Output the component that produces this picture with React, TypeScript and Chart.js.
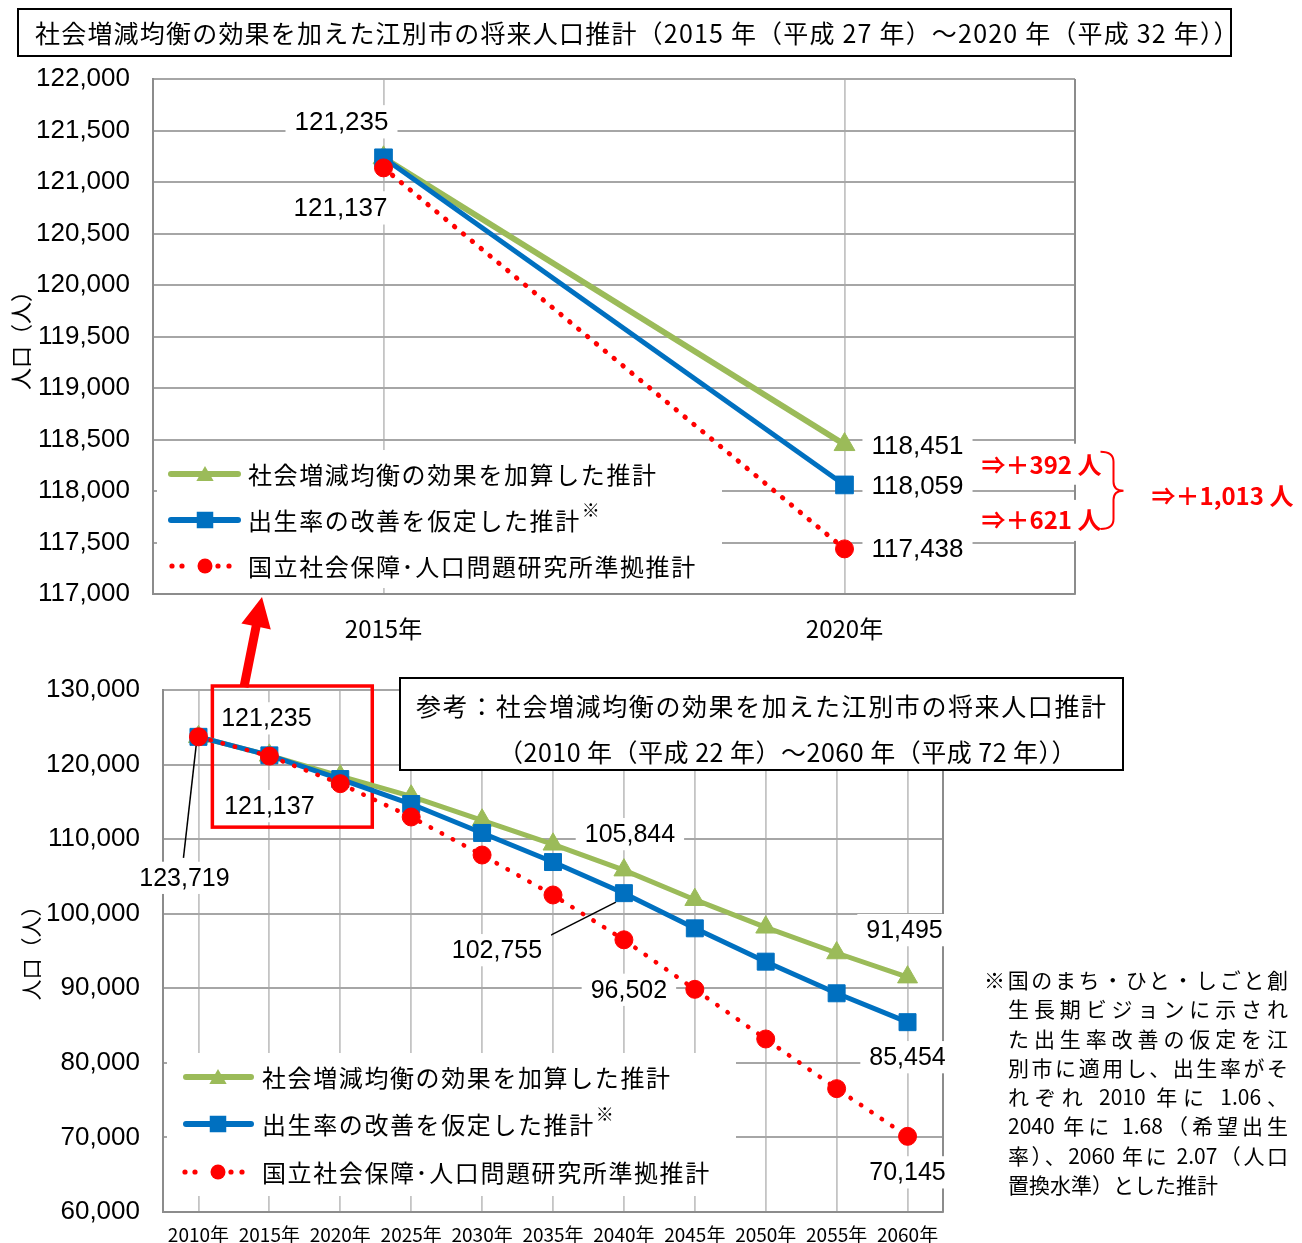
import React, { useEffect, useRef } from 'react';
import { Chart, registerables } from 'chart.js';

Chart.register(...registerables);

// ---------------- data ----------------
const seriesNames = [
  '社会増減均衡の効果を加算した推計',
  '出生率の改善を仮定した推計',
  '国立社会保障･人口問題研究所準拠推計',
];

const topYears = ['2015年', '2020年'];
const topBalance = [121235, 118451];
const topFertility = [121235, 118059];
const topIpss = [121137, 117438];
const topYMin = 117000;
const topYMax = 122000;
const topYStep = 500;

const refYears = ['2010年', '2015年', '2020年', '2025年', '2030年', '2035年', '2040年', '2045年', '2050年', '2055年', '2060年'];
const refBalance = [123719, 121235, 118451, 115750, 112530, 109310, 105844, 101880, 98180, 94730, 91495];
const refFertility = [123719, 121235, 118059, 114710, 110830, 106930, 102755, 98040, 93570, 89330, 85454];
const refIpss = [123719, 121137, 117438, 112970, 107870, 102510, 96502, 89860, 83200, 76540, 70145];
const refYMin = 60000;
const refYMax = 130000;
const refYStep = 10000;

const titleText = '社会増減均衡の効果を加えた江別市の将来人口推計（2015 年（平成 27 年）～2020 年（平成 32 年））';
const refTitle1 = '参考：社会増減均衡の効果を加えた江別市の将来人口推計';
const refTitle2 = '（2010 年（平成 22 年）～2060 年（平成 72 年））';
const yAxisTitle = '人口（人）';
const noteLines = [
  '※国のまち・ひと・しごと創',
  '生長期ビジョンに示され',
  'た出生率改善の仮定を江',
  '別市に適用し、出生率がそ',
  'れぞれ 2010 年に 1.06、',
  '2040 年に 1.68（希望出生',
  '率）、2060 年に 2.07（人口',
  '置換水準）とした推計',
];

// ---------------- styles ----------------
const FONT_JP = '"Noto Sans CJK JP", "Noto Sans", sans-serif';
const FONT_NUM = '"Liberation Sans", Arial, sans-serif';
const GREEN = '#9BBB59';
const BLUE = '#0070C0';
const RED = '#FF0000';
const GRID_H = '#a6a6a6';
const GRID_V = '#c4c4c4';
const AXIS = '#8c8c8c';

type LabelSpec = { ds: number; i: number; dx: number; dy: number; leader?: number[] };

interface LegendSpec {
  x: number; y: number; w: number; h: number;
  rows: number[]; x1: number; x2: number; mx: number; tx: number;
  size: number; r: number[]; lw: number;
}

interface DecorSpec {
  id: string;
  yTitle: { x: number; y: number; size: number };
  legend: LegendSpec;
  labels: LabelSpec[];
  labelSize: number;
  extra?: (ctx: CanvasRenderingContext2D, chart: any) => void;
}

function tri(ctx: CanvasRenderingContext2D, x: number, y: number, r: number) {
  ctx.beginPath();
  ctx.moveTo(x, y - r);
  ctx.lineTo(x + r * 0.866, y + r / 2);
  ctx.lineTo(x - r * 0.866, y + r / 2);
  ctx.closePath();
  ctx.fill();
}

function drawLegend(ctx: CanvasRenderingContext2D, L: LegendSpec) {
  ctx.fillStyle = '#fff';
  ctx.fillRect(L.x, L.y, L.w, L.h);
  const colors = [GREEN, BLUE, RED];
  L.rows.forEach((ry, k) => {
    ctx.save();
    if (k < 2) {
      ctx.strokeStyle = colors[k];
      ctx.lineWidth = L.lw;
      ctx.lineCap = 'round';
      ctx.beginPath();
      ctx.moveTo(L.x1 + 3, ry);
      ctx.lineTo(L.x2 - 3, ry);
      ctx.stroke();
    } else {
      ctx.fillStyle = RED;
      [-33, -23, 13, 24].forEach((o) => {
        ctx.beginPath();
        ctx.arc(L.mx + o, ry, 2.6, 0, Math.PI * 2);
        ctx.fill();
      });
    }
    ctx.fillStyle = colors[k];
    if (k === 0) tri(ctx, L.mx, ry + 2, L.r[0]);
    if (k === 1) {
      const s = L.r[1];
      ctx.fillRect(L.mx - s / 2, ry - s / 2, s, s);
    }
    if (k === 2) {
      ctx.beginPath();
      ctx.arc(L.mx, ry, L.r[2], 0, Math.PI * 2);
      ctx.fill();
    }
    ctx.restore();
    ctx.save();
    ctx.fillStyle = '#000';
    ctx.font = `${L.size}px ${FONT_JP}`;
    (ctx as any).letterSpacing = '1.6px';
    ctx.textAlign = 'left';
    ctx.textBaseline = 'middle';
    ctx.fillText(seriesNames[k], L.tx, ry + 1);
    if (k === 1) {
      const w = ctx.measureText(seriesNames[k]).width;
      ctx.font = `${Math.round(L.size * 0.75)}px ${FONT_JP}`;
      ctx.fillText('※', L.tx + w + 1, ry - 10);
    }
    ctx.restore();
  });
}

function makeDecor(spec: DecorSpec) {
  return {
    id: spec.id,
    beforeDatasetsDraw(chart: any) {
      const ctx: CanvasRenderingContext2D = chart.ctx;
      const { right, top, bottom } = chart.chartArea;
      const xs = chart.scales.x;
      const ys = chart.scales.y;
      ctx.save();
      // right plot border
      ctx.strokeStyle = AXIS;
      ctx.lineWidth = 2;
      ctx.beginPath();
      ctx.moveTo(right, top);
      ctx.lineTo(right, bottom);
      ctx.stroke();

      drawLegend(ctx, spec.legend);

      // data labels
      for (const l of spec.labels) {
        const v = chart.data.datasets[l.ds].data[l.i] as number;
        const px = xs.getPixelForValue(l.i);
        const py = ys.getPixelForValue(v);
        if (l.leader) {
          ctx.strokeStyle = '#000';
          ctx.lineWidth = 1.5;
          ctx.beginPath();
          ctx.moveTo(px + l.leader[0], py + l.leader[1]);
          ctx.lineTo(px + l.leader[2], py + l.leader[3]);
          ctx.stroke();
        }
        const text = v.toLocaleString('en-US');
        ctx.font = `${spec.labelSize}px ${FONT_NUM}`;
        const w = ctx.measureText(text).width;
        const h = spec.labelSize * 1.05;
        const x = px + l.dx;
        const y = py + l.dy;
        ctx.fillStyle = '#fff';
        ctx.fillRect(x - w / 2 - 9, y - h / 2 - 3, w + 18, h + 6);
        ctx.fillStyle = '#000';
        ctx.textAlign = 'center';
        ctx.textBaseline = 'middle';
        ctx.fillText(text, x, y + 1);
      }

      if (spec.extra) spec.extra(ctx, chart);

      // y axis title
      ctx.save();
      ctx.translate(spec.yTitle.x, spec.yTitle.y);
      ctx.rotate(-Math.PI / 2);
      ctx.fillStyle = '#000';
      ctx.font = `${spec.yTitle.size}px ${FONT_JP}`;
      ctx.textAlign = 'center';
      ctx.textBaseline = 'middle';
      ctx.fillText(yAxisTitle, 0, 0);
      ctx.restore();

      ctx.restore();
    },
  };
}

function datasets(bal: number[], fer: number[], ips: number[], big: boolean) {
  return [
    {
      label: seriesNames[0], data: bal, borderColor: GREEN, backgroundColor: GREEN,
      borderWidth: big ? 6 : 5, pointStyle: 'triangle', pointRadius: big ? 12 : 11.5, pointBorderWidth: 1, order: 2,
    },
    {
      label: seriesNames[1], data: fer, borderColor: BLUE, backgroundColor: BLUE,
      borderWidth: 5, pointStyle: 'rect', pointRadius: big ? 12.5 : 12, pointBorderWidth: 1, order: 1,
    },
    {
      label: seriesNames[2], data: ips, borderColor: RED, backgroundColor: RED,
      borderWidth: big ? 5 : 4.5, borderDash: big ? [0.5, 11] : [0.5, 12], borderCapStyle: 'round',
      pointStyle: 'circle', pointRadius: 9, pointBorderWidth: 1, order: 0,
    },
  ];
}

function scalesFor(min: number, max: number, step: number, yWidth: number, xHeight: number, xFont: number, xPad: number) {
  return {
    x: {
      type: 'category', offset: true,
      grid: { color: GRID_V, lineWidth: 1.8, drawTicks: false },
      border: { color: AXIS, width: 2 },
      ticks: { font: { family: FONT_JP, size: xFont }, color: '#000', padding: xPad, maxRotation: 0, autoSkip: false },
      afterFit: (s: any) => { s.height = xHeight; },
    },
    y: {
      min, max,
      grid: { color: GRID_H, lineWidth: 2, drawTicks: false },
      border: { color: AXIS, width: 2 },
      ticks: {
        stepSize: step, font: { family: FONT_NUM, size: 26 }, color: '#000', padding: 23,
        callback: (v: any) => Number(v).toLocaleString('en-US'),
      },
      afterFit: (s: any) => { s.width = yWidth; },
    },
  };
}

const topLabels: LabelSpec[] = [
  { ds: 1, i: 0, dx: -42, dy: -36 },
  { ds: 2, i: 0, dx: -43, dy: 40 },
  { ds: 0, i: 1, dx: 73, dy: 1 },
  { ds: 1, i: 1, dx: 73, dy: 1 },
  { ds: 2, i: 1, dx: 73, dy: 0 },
];

const refLabels: LabelSpec[] = [
  { ds: 1, i: 1, dx: -3, dy: -37 },
  { ds: 2, i: 1, dx: 0, dy: 50 },
  { ds: 2, i: 0, dx: -14, dy: 141, leader: [-15, 121, -2, 6] },
  { ds: 0, i: 6, dx: 6, dy: -36 },
  { ds: 1, i: 6, dx: -127, dy: 57, leader: [-77, 44, -8, 9] },
  { ds: 2, i: 6, dx: 5, dy: 50 },
  { ds: 0, i: 10, dx: -3, dy: -47 },
  { ds: 1, i: 10, dx: 0, dy: 35 },
  { ds: 2, i: 10, dx: 0, dy: 36 },
];

function topExtra(ctx: CanvasRenderingContext2D, chart: any) {
  const xs = chart.scales.x;
  const ys = chart.scales.y;
  const px = xs.getPixelForValue(1);
  const yG = ys.getPixelForValue(topBalance[1]);
  const yB = ys.getPixelForValue(topFertility[1]);
  const yR = ys.getPixelForValue(topIpss[1]);
  const d1 = topBalance[1] - topFertility[1];
  const d2 = topFertility[1] - topIpss[1];
  const d3 = topBalance[1] - topIpss[1];
  const fmt = (n: number) => `⇒＋${n.toLocaleString('en-US')} 人`;
  ctx.save();
  ctx.font = `bold 24px ${FONT_JP}`;
  ctx.textAlign = 'left';
  ctx.textBaseline = 'middle';
  const tx = px + 137;
  const y1 = (yG + yB) / 2;
  const y2 = (yB + yR) / 2 + 3;
  ctx.fillStyle = '#fff';
  ctx.fillRect(tx - 7, y1 - 21, 126, 41);
  ctx.fillRect(tx - 7, y2 - 20, 126, 41);
  ctx.fillStyle = RED;
  ctx.fillText(fmt(d1), tx, y1);
  ctx.fillText(fmt(d2), tx, y2);
  // brace
  const bx = px + 256;
  const ym = (yG + yR) / 2 - 6;
  const t = y1 - 13;
  const b = y2 + 9;
  ctx.strokeStyle = RED;
  ctx.lineWidth = 2;
  ctx.beginPath();
  ctx.moveTo(bx, t);
  ctx.quadraticCurveTo(bx + 13, t, bx + 13, t + 10);
  ctx.lineTo(bx + 13, ym - 9);
  ctx.quadraticCurveTo(bx + 13, ym, bx + 23, ym);
  ctx.quadraticCurveTo(bx + 13, ym, bx + 13, ym + 9);
  ctx.lineTo(bx + 13, b - 10);
  ctx.quadraticCurveTo(bx + 13, b, bx, b);
  ctx.stroke();
  ctx.fillText(fmt(d3), px + 307, (yG + yR) / 2 - 1);
  ctx.restore();
}

function refExtra(ctx: CanvasRenderingContext2D, chart: any) {
  const xs = chart.scales.x;
  const ys = chart.scales.y;
  const l = xs.getPixelForValue(1) - 57;
  const r = xs.getPixelForValue(2) + 32;
  const t = chart.chartArea.top - 4;
  const b = ys.getPixelForValue(110000) - 12;
  ctx.save();
  ctx.strokeStyle = RED;
  ctx.lineWidth = 3.5;
  ctx.strokeRect(l, t, r - l, b - t);
  ctx.restore();
}

const topDecor = makeDecor({
  id: 'topDecor',
  yTitle: { x: 21, y: 335, size: 22 },
  legend: { x: 157, y: 450, w: 565, h: 138, rows: [474, 520, 566], x1: 168, x2: 241, mx: 205, tx: 248, size: 24, r: [10, 16.5, 7.5], lw: 6 },
  labels: topLabels,
  labelSize: 26,
  extra: topExtra,
});

const refDecor = makeDecor({
  id: 'refDecor',
  yTitle: { x: 31, y: 298, size: 21 },
  legend: { x: 167, y: 403, w: 569, h: 143, rows: [427, 474, 522], x1: 183, x2: 254, mx: 218, tx: 262, size: 24, r: [10, 16.5, 7.5], lw: 6 },
  labels: refLabels,
  labelSize: 25,
  extra: refExtra,
});

export default function App() {
  const topRef = useRef<HTMLCanvasElement>(null);
  const refRef = useRef<HTMLCanvasElement>(null);

  useEffect(() => {
    const c1 = new Chart(topRef.current as HTMLCanvasElement, {
      type: 'line',
      data: { labels: topYears, datasets: datasets(topBalance, topFertility, topIpss, true) as any },
      options: {
        animation: false,
        responsive: false,
        layout: { padding: { top: 79, right: 227, left: 0, bottom: 0 } },
        plugins: { legend: { display: false }, tooltip: { enabled: false } },
        scales: scalesFor(topYMin, topYMax, topYStep, 153, 56, 24, 20) as any,
      },
      plugins: [topDecor as any],
    });
    const c2 = new Chart(refRef.current as HTMLCanvasElement, {
      type: 'line',
      data: { labels: refYears, datasets: datasets(refBalance, refFertility, refIpss, false) as any },
      options: {
        animation: false,
        responsive: false,
        layout: { padding: { top: 40, right: 359, left: 0, bottom: 0 } },
        plugins: { legend: { display: false }, tooltip: { enabled: false } },
        scales: scalesFor(refYMin, refYMax, refYStep, 163, 42, 19, 11) as any,
      },
      plugins: [refDecor as any],
    });
    return () => {
      c1.destroy();
      c2.destroy();
    };
  }, []);

  const jp: React.CSSProperties = { fontFamily: FONT_JP, color: '#000', whiteSpace: 'nowrap' };

  return (
    <div style={{ position: 'absolute', left: 0, top: 0, width: 1302, height: 1243, background: '#fff', overflow: 'hidden' }}>
      <canvas ref={topRef} width={1302} height={650} style={{ position: 'absolute', left: 0, top: 0, width: 1302, height: 650 }} />
      <canvas ref={refRef} width={1302} height={604} style={{ position: 'absolute', left: 0, top: 650, width: 1302, height: 604 }} />
      <svg width={1302} height={1243} style={{ position: 'absolute', left: 0, top: 0, pointerEvents: 'none' }}>
        <polygon
          points="262,597 270.8,629.4 260.5,627.3 248.4,688 239.6,686 251.7,625.5 241.4,623.4"
          fill={RED}
        />
      </svg>
      <div
        style={{
          ...jp, position: 'absolute', left: 17, top: 8, width: 1215, height: 49, boxSizing: 'border-box',
          border: '2px solid #000', paddingLeft: 16, fontSize: 25, lineHeight: '45px', letterSpacing: '1.2px', background: '#fff',
        }}
      >
        {titleText}
      </div>
      <div
        style={{
          position: 'absolute', left: 399, top: 677, width: 725, height: 94, boxSizing: 'border-box',
          border: '2px solid #000', background: '#fff',
        }}
      >
        <div style={{ ...jp, position: 'absolute', left: 15, top: 11, fontSize: 25, lineHeight: '30px', letterSpacing: '1.6px' }}>{refTitle1}</div>
        <div style={{ ...jp, position: 'absolute', left: 97, top: 57, fontSize: 25, lineHeight: '30px', letterSpacing: '0.5px' }}>{refTitle2}</div>
      </div>
      <div style={{ position: 'absolute', left: 984, top: 965, width: 304 }}>
        {noteLines.map((t, k) => (
          <div
            key={k}
            style={{
              fontFamily: FONT_JP, color: '#000', fontSize: 21, height: 29.3, lineHeight: '29.3px', whiteSpace: 'nowrap',
              marginLeft: k === 0 ? 0 : 24,
              textAlign: 'justify',
              textAlignLast: k === noteLines.length - 1 ? 'left' : 'justify',
            } as React.CSSProperties}
          >
            {t}
          </div>
        ))}
      </div>
    </div>
  );
}
